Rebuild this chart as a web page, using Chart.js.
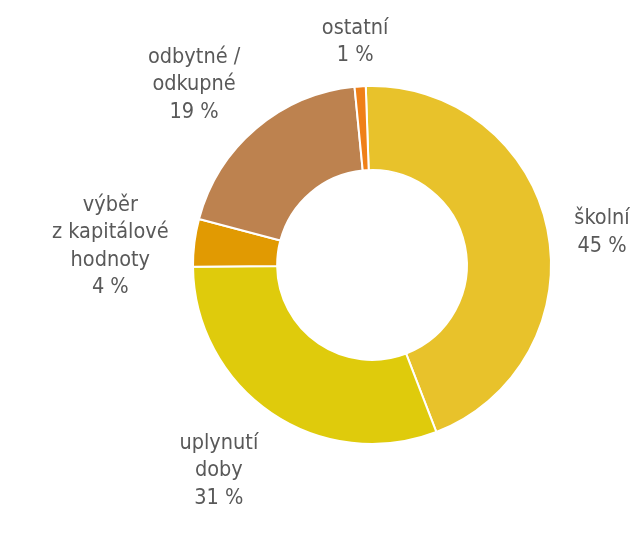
<!DOCTYPE html>
<html>
<head>
<meta charset="utf-8">
<script src="https://cdn.jsdelivr.net/npm/chart.js@4"></script>
<style>
  html, body { margin: 0; padding: 0; background: #ffffff; }
  #wrap { width: 630px; height: 540px; position: relative; }
</style>
</head>
<body>
<div id="wrap"><canvas id="chart"></canvas></div>
<script>
  // Data
  const categories = [['školní'], ['uplynutí', 'doby'], ['výběr', 'z kapitálové', 'hodnoty'], ['odbytné /', 'odkupné'], ['ostatní']];
  const values = [44.7, 30.7, 4.3, 19.3, 1.0];
  const percentLabels = ['45 %', '31 %', '4 %', '19 %', '1 %'];
  const colors = ['#E8C22B', '#DFCB0C', '#E19A02', '#BD824F', '#EF8018'];

  const FONT = '21.5px "DejaVu Sans Condensed", "Liberation Sans Narrow", sans-serif';
  const LINE_H = 27.5;
  // small hand nudges so labels sit where the original placed them
  const nudge = [[7, 13], [-12, -2], [-4, 14], [-12, 15], [-2, 1]];

  // Draws the category labels outside the ring, pushed out from each slice's mid angle
  const outsideLabels = {
    id: 'outsideLabels',
    afterDraw(chart) {
      const ctx = chart.ctx;
      const meta = chart.getDatasetMeta(0);
      ctx.save();
      ctx.font = FONT;
      ctx.fillStyle = '#595959';
      ctx.textAlign = 'center';
      ctx.textBaseline = 'middle';
      meta.data.forEach((arc, i) => {
        const lines = categories[i].concat([percentLabels[i]]);
        const w = Math.max(...lines.map(l => ctx.measureText(l).width)) / 2;
        const h = lines.length * LINE_H / 2;
        const mid = (arc.startAngle + arc.endAngle) / 2;
        const dx = Math.cos(mid), dy = Math.sin(mid);
        const d = arc.outerRadius + 16 + Math.abs(dx) * w + Math.abs(dy) * h;
        const cx = arc.x + dx * d + nudge[i][0];
        const cy = arc.y + dy * d + nudge[i][1];
        lines.forEach((l, k) => {
          ctx.fillText(l, cx, cy - h + LINE_H * (k + 0.5));
        });
      });
      ctx.restore();
    }
  };

  new Chart(document.getElementById('chart'), {
    type: 'doughnut',
    data: {
      labels: categories.map(c => c.join(' ')),
      datasets: [{
        data: values,
        backgroundColor: colors,
        borderColor: '#ffffff',
        borderWidth: 2
      }]
    },
    options: {
      responsive: true,
      maintainAspectRatio: false,
      animation: false,
      cutout: '53%',
      rotation: -2,
      layout: { padding: { left: 192, right: 78, top: 85, bottom: 95 } },
      plugins: {
        legend: { display: false },
        tooltip: { enabled: false }
      }
    },
    plugins: [outsideLabels]
  });
</script>
</body>
</html>
